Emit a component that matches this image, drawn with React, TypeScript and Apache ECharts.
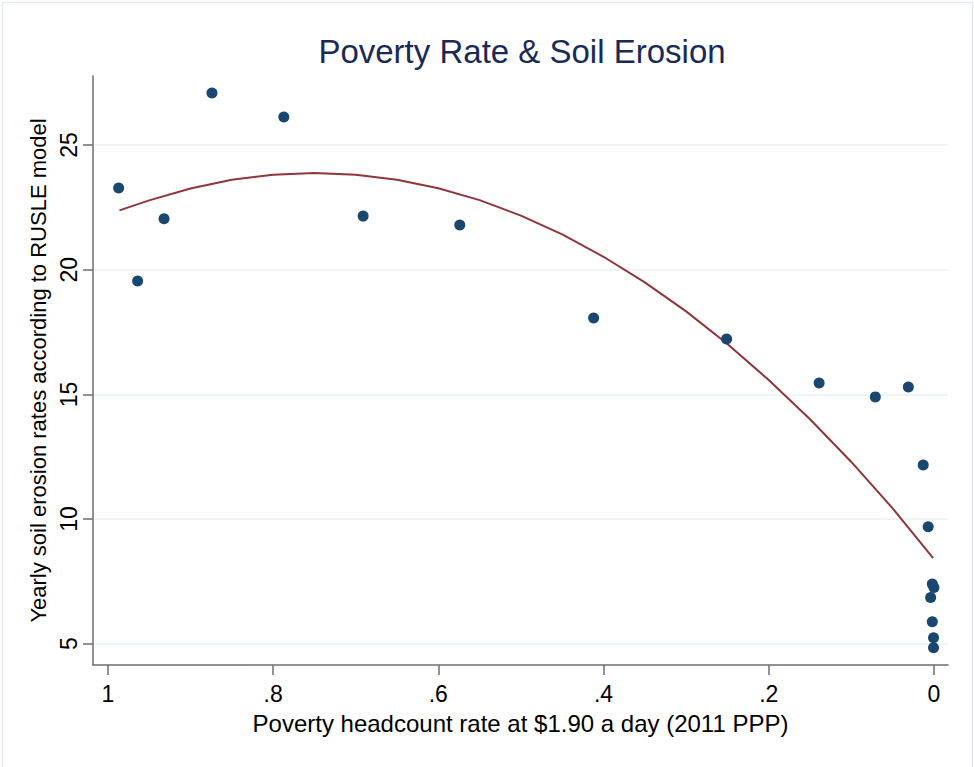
import React, { useEffect, useRef } from "react";
import * as echarts from "echarts";

const TITLE = "Poverty Rate & Soil Erosion";
const X_NAME = "Poverty headcount rate at $1.90 a day (2011 PPP)";
const Y_NAME = "Yearly soil erosion rates according to RUSLE model";

const xTicks = [0, 0.2, 0.4, 0.6, 0.8, 1];
const yTicks = [5, 10, 15, 20, 25];

// poverty rate, erosion
const povertyRate = [0.987, 0.964, 0.932, 0.874, 0.787, 0.691, 0.574, 0.412, 0.251, 0.139, 0.071, 0.031, 0.013, 0.007, 0.002, 0.0, 0.004, 0.002, 0.0005, 0.0005];
const erosion = [23.28, 19.55, 22.04, 27.09, 26.13, 22.15, 21.79, 18.06, 17.22, 15.46, 14.9, 15.3, 12.17, 9.69, 7.39, 7.25, 6.85, 5.88, 5.24, 4.84];

// quadratic fit curve
const fitX = [0.986, 0.95, 0.9, 0.85, 0.8, 0.75, 0.7, 0.65, 0.6, 0.55, 0.5, 0.45, 0.4, 0.35, 0.3, 0.25, 0.2, 0.15, 0.1, 0.05, 0.001];
const fitY = [22.38, 22.78, 23.26, 23.61, 23.81, 23.88, 23.81, 23.61, 23.27, 22.79, 22.17, 21.42, 20.52, 19.49, 18.33, 17.02, 15.58, 14.0, 12.29, 10.43, 8.43];

const FONT = "'Liberation Sans', Arial, sans-serif";

export default function App() {
  const ref = useRef<HTMLDivElement>(null);
  useEffect(() => {
    if (!ref.current) return;
    const chart = echarts.init(ref.current, null, { renderer: "svg" });
    const fmt = (v: number) => {
      if (Math.abs(v) < 1e-9) return "0";
      if (Math.abs(v - 1) < 1e-9) return "1";
      return String(Math.round(v * 10) / 10).replace(/^0/, "");
    };
    chart.setOption({
      animation: false,
      backgroundColor: "#ffffff",
      textStyle: { fontFamily: FONT },
      title: {
        text: TITLE,
        left: 517,
        top: 30,
        textAlign: "center",
        textStyle: { fontFamily: FONT, fontSize: 33, fontWeight: "normal", color: "#1a2a57" },
      },
      graphic: [
        {
          type: "rect",
          shape: { x: 2.5, y: 2.5, width: 970, height: 780 },
          style: { fill: "none", stroke: "#e3eaed", lineWidth: 1.5 },
          silent: true,
        },
      ],
      grid: { left: 93, right: 26, top: 76, bottom: 102 },
      xAxis: {
        type: "value",
        inverse: true,
        min: -0.017,
        max: 1.018,
        name: X_NAME,
        nameLocation: "middle",
        nameGap: 46,
        nameTextStyle: { fontFamily: FONT, fontSize: 24, color: "#000" },
        axisLine: { show: true, onZero: false, lineStyle: { color: "#6e6e6e", width: 1.5 } },
        axisTick: { show: true, length: 10, customValues: xTicks, lineStyle: { color: "#6e6e6e", width: 1.5 } },
        axisLabel: { customValues: xTicks, fontSize: 23, color: "#000", margin: 17, formatter: fmt },
        splitLine: { show: false },
      },
      yAxis: {
        type: "value",
        min: 4.146,
        max: 27.77,
        name: Y_NAME,
        nameLocation: "middle",
        nameGap: 44,
        nameRotate: 90,
        nameTextStyle: { fontFamily: FONT, fontSize: 22, color: "#000" },
        axisLine: { show: true, onZero: false, lineStyle: { color: "#6e6e6e", width: 1.5 } },
        axisTick: { show: true, length: 10, customValues: yTicks, lineStyle: { color: "#6e6e6e", width: 1.5 } },
        axisLabel: { customValues: yTicks, fontSize: 23, color: "#000", rotate: 90, margin: 13 },
        splitLine: { show: true, lineStyle: { color: "#eaf1f3", width: 1.5 } },
      },
      series: [
        {
          type: "line",
          data: fitX.map((x, i) => [x, fitY[i]]),
          smooth: false,
          showSymbol: false,
          symbol: "none",
          lineStyle: { color: "#90353b", width: 2 },
          z: 2,
        },
        {
          type: "scatter",
          data: povertyRate.map((x, i) => [x, erosion[i]]),
          symbol: "circle",
          symbolSize: 11,
          itemStyle: { color: "#1a476f", opacity: 1 },
          z: 3,
        },
      ],
    });
    return () => chart.dispose();
  }, []);
  return <div ref={ref} style={{ position: "fixed", left: 0, top: 0, width: 974, height: 767 }} />;
}
